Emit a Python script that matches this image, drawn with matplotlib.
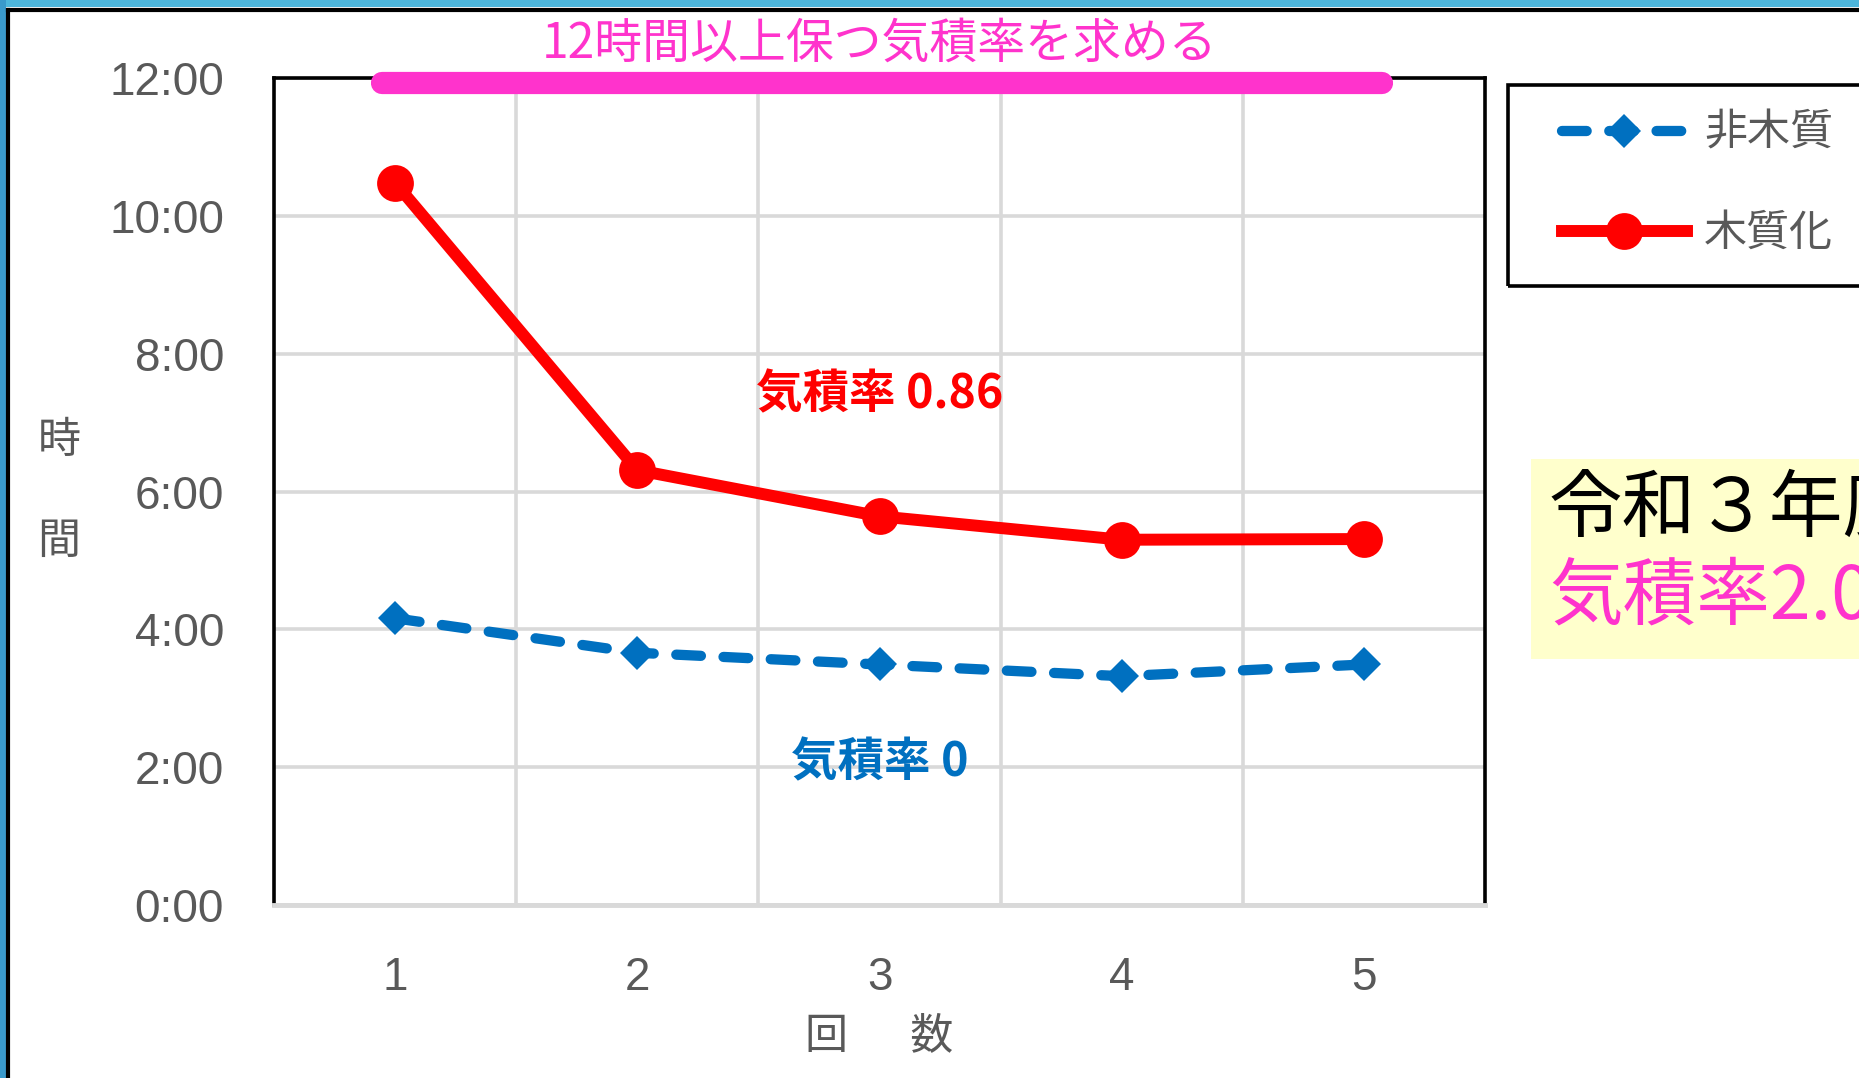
import matplotlib
matplotlib.use("Agg")
import matplotlib.pyplot as plt
from matplotlib.lines import Line2D
from matplotlib.patches import Rectangle

plt.rcParams["font.family"] = ["Noto Sans CJK JP", "DejaVu Sans"]

# trial number vs. how long the room stays above threshold (hours)
trials = [1, 2, 3, 4, 5]
untreated_hours = [4.16, 3.66, 3.49, 3.32, 3.49]
treated_hours = [10.48, 6.31, 5.64, 5.30, 5.31]
series_labels = ["非木質", "木質化"]
y_ticks = [0, 2, 4, 6, 8, 10, 12]

PINK = "#ff33cc"
BLUE = "#0070c0"
RED = "#ff0000"
GRAY = "#595959"
GRID = "#d9d9d9"

W, H = 1859, 1078
fig = plt.figure(figsize=(W / 100, H / 100), dpi=100)
ax = fig.add_axes([274 / W, 1 - 905 / H, (1485 - 274) / W, (905 - 78) / H])

ax.plot(trials, untreated_hours, color=BLUE, lw=7.4, ls=(0, (2.4, 2.2)),
        dash_capstyle="round", marker="D", ms=17, mew=0, zorder=3,
        label=series_labels[0])
ax.plot(trials, treated_hours, color=RED, lw=8.6, marker="o", ms=26.5, mew=0,
        solid_joinstyle="round", zorder=4, label=series_labels[1])

ax.set_xlim(0.5, 5.5)
ax.set_ylim(0, 12)
ax.set_xticks(trials, [str(t) for t in trials], fontfamily="Liberation Sans",
              fontsize=33, color=GRAY)
ax.set_yticks(y_ticks, [f"{h}:00" for h in y_ticks], fontfamily="Liberation Sans",
              fontsize=33, color=GRAY)
ax.tick_params(axis="both", length=0)
ax.tick_params(axis="y", pad=36)
ax.tick_params(axis="x", pad=37)

# category gridlines sit between the trials, value gridlines on the hours
ax.set_xticks([1.5, 2.5, 3.5, 4.5], minor=True)
ax.tick_params(which="minor", length=0)
ax.grid(True, which="minor", axis="x", color=GRID, lw=2.6)
ax.grid(True, which="major", axis="y", color=GRID, lw=2.6)
ax.set_axisbelow(True)

for side in ("left", "right", "top"):
    ax.spines[side].set_color("black")
    ax.spines[side].set_linewidth(2.6)
ax.spines["bottom"].set_color(GRID)
ax.spines["bottom"].set_linewidth(3.5)

ax.set_xlabel("回　  数", fontsize=31, color=GRAY, va="center")
ax.xaxis.set_label_coords(0.5, -0.158)
ax.set_ylabel("時\n間", fontsize=31, color=GRAY, rotation=0, va="center",
              ha="center", linespacing=2.7)
ax.yaxis.set_label_coords(-0.1775, 0.5)

# target band at the 12-hour line
ax.plot([0.946, 5.075], [11.93, 11.93], color=PINK, lw=16,
        solid_capstyle="round", clip_on=False, zorder=5)
fig.text(880 / W, 1 - 44 / H, "12時間以上保つ気積率を求める", color=PINK,
         fontsize=34.5, ha="center", va="center")

ax.text(3.0, 7.41, "気積率 0.86", color=RED, fontsize=33.5, fontweight="bold",
        ha="center", va="center")
ax.text(3.0, 2.07, "気積率 0", color=BLUE, fontsize=33.5, fontweight="bold",
        ha="center", va="center")

# legend entries, with the box drawn separately
leg = fig.legend(loc="center left", bbox_to_anchor=(1562 / W, 1 - 184 / H),
                 frameon=False, fontsize=31, handlelength=2.9,
                 handletextpad=0.4, labelspacing=1.3, borderpad=0,
                 borderaxespad=0)
for t in leg.get_texts():
    t.set_color(GRAY)
fig.patches.append(Rectangle((1508 / W, 1 - 286 / H), 400 / W, (286 - 85) / H,
                             transform=fig.transFigure, fill=False,
                             ec="black", lw=2.6))

# note box on the right
fig.patches.append(Rectangle((1531 / W, 1 - 659 / H), 400 / W, (659 - 459) / H,
                             transform=fig.transFigure, color="#ffffcc", lw=0))
fig.text(1549 / W, 1 - 510 / H, "令和３年度", color="black", fontsize=53,
         ha="left", va="center")
fig.text(1549 / W, 1 - 598 / H, "気積率2.0", color=PINK, fontsize=53,
         ha="left", va="center")

# outer frame
fig.patches.append(Rectangle((0, 1 - 7 / H), 1, 7 / H, transform=fig.transFigure,
                             color="#4db6dc", lw=0))
fig.patches.append(Rectangle((0, 0), 6 / W, 1, transform=fig.transFigure,
                             color="#3a9acc", lw=0))
fig.add_artist(Line2D([8 / W, 1], [1 - 9.5 / H, 1 - 9.5 / H], color="black", lw=3))
fig.add_artist(Line2D([8 / W, 8 / W], [0, 1 - 9.5 / H], color="black", lw=3))

fig.savefig("out.png", dpi=100)
